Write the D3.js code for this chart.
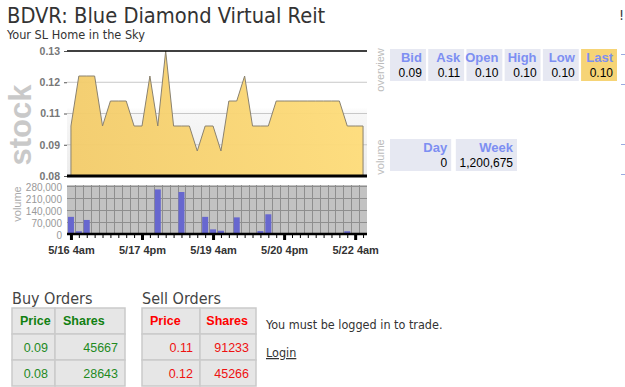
<!DOCTYPE html>
<html><head><meta charset="utf-8">
<script src="https://cdn.jsdelivr.net/npm/d3@7"></script>
<style>body{margin:0;background:#fff}svg{display:block}</style>
</head><body>
<svg width="625" height="387"></svg>
<script>
// prices and volumes, one point every 4 hours starting 5/16 4am
var startTime = new Date(2012, 4, 16, 4);
var stepHours = 4;
var prices = [0.10,0.12,0.12,0.12,0.10,0.11,0.11,0.11,0.10,0.10,0.12,0.10,0.13,0.10,0.10,0.10,0.09,0.10,0.10,0.09,
              0.11,0.11,0.12,0.10,0.10,0.10,0.11,0.11,0.11,0.11,0.11,0.11,0.11,0.11,0.11,0.10,0.10,0.10];
var volumes = [100000,16000,82000,5000,0,0,0,0,0,0,0,260000,0,0,245000,0,0,100000,27000,19000,
               0,97000,0,0,17000,115000,0,0,0,0,0,3000,0,0,0,16000,0,0];
var priceTicks = [0.08, 0.0925, 0.105, 0.1175, 0.13];
var priceTickLabels = ["0.08","0.09","0.11","0.12","0.13"];
var volumeTicks = [0, 70000, 140000, 210000, 280000];
var dateTicks = [new Date(2012,4,16,4), new Date(2012,4,17,16), new Date(2012,4,19,4), new Date(2012,4,20,16), new Date(2012,4,22,4)];
var dateTickLabels = ["5/16 4am","5/17 4pm","5/19 4am","5/20 4pm","5/22 4am"];

var quoteLabels = ["Bid","Ask","Open","High","Low","Last"];
var quoteValues = ["0.09","0.11","0.10","0.10","0.10","0.10"];
var volLabels = ["Day","Week"];
var volValues = ["0","1,200,675"];
var buyOrders = [["0.09","45667"],["0.08","28643"]];
var sellOrders = [["0.11","91233"],["0.12","45266"]];

var data = prices.map(function(p, i) {
  return {t: d3.timeHour.offset(startTime, i * stepHours), price: p, vol: volumes[i]};
});

var svg = d3.select("svg");
var sans = "'Liberation Sans', Arial, sans-serif";
var tahoma = "'DejaVu Sans Condensed', 'DejaVu Sans', sans-serif";

var defs = svg.append("defs");
var bg = defs.append("linearGradient").attr("id", "bg").attr("x1", 0).attr("y1", 0).attr("x2", 0).attr("y2", 1);
bg.append("stop").attr("offset", "0%").attr("stop-color", "#ffffff");
bg.append("stop").attr("offset", "45%").attr("stop-color", "#ffffff");
bg.append("stop").attr("offset", "50%").attr("stop-color", "#f7f7f7");
bg.append("stop").attr("offset", "100%").attr("stop-color", "#ececec");
var gold = defs.append("linearGradient").attr("id", "gold").attr("x1", 0).attr("y1", 0).attr("x2", 1).attr("y2", 0);
gold.append("stop").attr("offset", "0%").attr("stop-color", "#f3cc6a");
gold.append("stop").attr("offset", "100%").attr("stop-color", "#fedc79");

// header
svg.append("text").attr("x", 7).attr("y", 23).attr("font-family", tahoma).attr("font-size", 21.7)
  .attr("fill", "#333").text("BDVR: Blue Diamond Virtual Reit");
svg.append("text").attr("x", 7).attr("y", 39).attr("font-family", tahoma).attr("font-size", 12.6)
  .attr("fill", "#333").text("Your SL Home in the Sky");
svg.append("text").attr("x", 619).attr("y", 20).attr("font-family", tahoma).attr("font-size", 14)
  .attr("fill", "#333").text("!");

var x = d3.scaleTime().domain([new Date(2012,4,16,2), new Date(2012,4,22,10)]).range([67, 367]);
var y = d3.scaleLinear().domain([0.08, 0.13]).range([176, 51]);
var yv = d3.scaleLinear().domain([0, 280000]).range([234, 186]);

// price panel
svg.append("rect").attr("x", 67).attr("y", 51).attr("width", 300).attr("height", 125).attr("fill", "url(#bg)");
svg.selectAll(".pgrid").data(priceTicks.slice(1, 4)).enter().append("line")
  .attr("x1", 67).attr("x2", 367).attr("y1", function(d) { return y(d); }).attr("y2", function(d) { return y(d); })
  .attr("stroke", "#c8c8c8").attr("stroke-width", 1);

var area = d3.area().x(function(d) { return x(d.t); }).y0(176).y1(function(d) { return y(d.price); });
svg.append("path").datum(data).attr("d", area).attr("fill", "url(#gold)").attr("fill-opacity", 0.95)
  .attr("stroke", "#8a8270").attr("stroke-width", 1);

svg.append("line").attr("x1", 67).attr("x2", 367).attr("y1", 51).attr("y2", 51).attr("stroke", "#000").attr("stroke-width", 1.5);
svg.append("line").attr("x1", 67).attr("x2", 367).attr("y1", 176).attr("y2", 176).attr("stroke", "#000").attr("stroke-width", 3);

var yAxis = svg.append("g").attr("transform", "translate(67,0)")
  .call(d3.axisLeft(y).tickValues(priceTicks).tickFormat(function(d, i) { return priceTickLabels[i]; }).tickSize(3).tickPadding(4));
yAxis.select(".domain").remove();
yAxis.selectAll("line").attr("stroke", "#555");
yAxis.selectAll("text").attr("font-family", sans).attr("font-size", 10.5).attr("font-weight", "bold").attr("fill", "#777");

svg.append("text").attr("transform", "translate(31,125) rotate(-90)").attr("text-anchor", "middle")
  .attr("font-family", sans).attr("font-size", 31).attr("font-weight", "bold").attr("fill", "#c9c9c9").text("stock");

// volume panel
svg.append("rect").attr("x", 67).attr("y", 185).attr("width", 300).attr("height", 49).attr("fill", "#c2c2c2");
svg.selectAll(".vgridx").data(data.slice(0, 37)).enter().append("line")
  .attr("x1", function(d) { return Math.round(x(d3.timeHour.offset(d.t, 2))) + 0.5; })
  .attr("x2", function(d) { return Math.round(x(d3.timeHour.offset(d.t, 2))) + 0.5; })
  .attr("y1", 185).attr("y2", 234).attr("stroke", "#8e8e8e").attr("stroke-width", 1);
svg.selectAll(".vgridy").data(volumeTicks.slice(1)).enter().append("line")
  .attr("x1", 67).attr("x2", 367)
  .attr("y1", function(d) { return Math.round(yv(d)) + 0.5; }).attr("y2", function(d) { return Math.round(yv(d)) + 0.5; })
  .attr("stroke", "#8e8e8e").attr("stroke-width", 1);

svg.selectAll(".bar").data(data.filter(function(d) { return d.vol > 0; })).enter().append("rect")
  .attr("x", function(d) { return x(d.t) - 3; })
  .attr("y", function(d) { return yv(d.vol); })
  .attr("width", 6)
  .attr("height", function(d) { return 234 - yv(d.vol); })
  .attr("fill", "#6767cf");

var vAxis = svg.append("g").attr("transform", "translate(67,1)")
  .call(d3.axisLeft(yv).tickValues(volumeTicks).tickFormat(d3.format(",")).tickSize(0).tickPadding(5));
vAxis.select(".domain").remove();
vAxis.selectAll("text").attr("font-family", sans).attr("font-size", 10).attr("fill", "#999");

svg.append("text").attr("transform", "translate(21,204) rotate(-90)").attr("text-anchor", "middle")
  .attr("font-family", sans).attr("font-size", 11).attr("fill", "#aaa").text("volume");

// x axis: minor ticks every 4 hours, major ticks with labels
var minor = svg.append("g").attr("transform", "translate(0,234)")
  .call(d3.axisBottom(x).tickValues(data.map(function(d) { return d.t; })).tickFormat("").tickSize(4));
minor.select(".domain").remove();
minor.selectAll("line").attr("stroke", "#000");
var major = svg.append("g").attr("transform", "translate(0,234)")
  .call(d3.axisBottom(x).tickValues(dateTicks).tickFormat(function(d, i) { return dateTickLabels[i]; }).tickSize(6).tickPadding(6));
major.select(".domain").remove();
major.selectAll("line").attr("stroke", "#000").attr("stroke-width", 3);
major.selectAll("text").attr("font-family", sans).attr("font-size", 11).attr("font-weight", "bold").attr("fill", "#333");
svg.append("line").attr("x1", 67).attr("x2", 367).attr("y1", 234).attr("y2", 234).attr("stroke", "#000").attr("stroke-width", 2.5);

// quote boxes
svg.append("text").attr("transform", "translate(384,70) rotate(-90)").attr("text-anchor", "middle")
  .attr("font-family", sans).attr("font-size", 11).attr("fill", "#bbb").text("overview");
svg.append("text").attr("transform", "translate(384,157) rotate(-90)").attr("text-anchor", "middle")
  .attr("font-family", sans).attr("font-size", 11).attr("fill", "#bbb").text("volume");

var qx = d3.scaleBand().domain(quoteLabels).range([390, 617]).paddingInner(0.06);
var q = svg.selectAll(".quote").data(quoteLabels).enter().append("g")
  .attr("transform", function(d) { return "translate(" + qx(d) + ",49)"; });
q.append("rect").attr("width", qx.bandwidth()).attr("height", 32)
  .attr("fill", function(d) { return d === "Last" ? "#f6d476" : "#e6e8f2"; });
q.append("text").attr("x", qx.bandwidth() - 4).attr("y", 13).attr("text-anchor", "end")
  .attr("font-family", sans).attr("font-size", 13).attr("font-weight", "bold").attr("fill", "#7d8ff2").text(function(d) { return d; });
q.append("text").attr("x", qx.bandwidth() - 4).attr("y", 28).attr("text-anchor", "end")
  .attr("font-family", sans).attr("font-size", 12).attr("fill", "#000").text(function(d, i) { return quoteValues[i]; });

var vx = d3.scaleBand().domain(volLabels).range([390, 517]).paddingInner(0.07);
var v = svg.selectAll(".vq").data(volLabels).enter().append("g")
  .attr("transform", function(d) { return "translate(" + vx(d) + ",139)"; });
v.append("rect").attr("width", vx.bandwidth()).attr("height", 32).attr("fill", "#e6e8f2");
v.append("text").attr("x", vx.bandwidth() - 4).attr("y", 13).attr("text-anchor", "end")
  .attr("font-family", sans).attr("font-size", 13).attr("font-weight", "bold").attr("fill", "#7d8ff2").text(function(d) { return d; });
v.append("text").attr("x", vx.bandwidth() - 4).attr("y", 28).attr("text-anchor", "end")
  .attr("font-family", sans).attr("font-size", 12).attr("fill", "#000").text(function(d, i) { return volValues[i]; });

svg.selectAll(".dash").data([54, 84, 144, 174]).enter().append("line")
  .attr("x1", 621).attr("x2", 625).attr("y1", function(d) { return d + 0.5; }).attr("y2", function(d) { return d + 0.5; })
  .attr("stroke", "#9aaae0");

// order tables
function orderTable(x0, splitX, x1, title, rows, headColor, valColor, sharesRight) {
  svg.append("text").attr("x", x0).attr("y", 304).attr("font-family", tahoma).attr("font-size", 16)
    .attr("fill", "#444").text(title);
  var rowY = d3.scaleBand().domain(d3.range(3)).range([308, 386]);
  var g = svg.append("g");
  [0, 1, 2].forEach(function(r) {
    g.append("rect").attr("x", x0).attr("y", rowY(r)).attr("width", splitX - x0).attr("height", rowY.bandwidth())
      .attr("fill", "#e6e6e6").attr("stroke", "#cacaca").attr("stroke-width", 1.5);
    g.append("rect").attr("x", splitX).attr("y", rowY(r)).attr("width", x1 - splitX).attr("height", rowY.bandwidth())
      .attr("fill", "#e6e6e6").attr("stroke", "#cacaca").attr("stroke-width", 1.5);
  });
  g.append("text").attr("x", x0 + 8).attr("y", rowY(0) + 17).attr("font-family", sans).attr("font-size", 12.5)
    .attr("font-weight", "bold").attr("fill", headColor).text("Price");
  g.append("text").attr("x", sharesRight ? x1 - 8 : splitX + 8).attr("y", rowY(0) + 17)
    .attr("text-anchor", sharesRight ? "end" : "start").attr("font-family", sans).attr("font-size", 12.5)
    .attr("font-weight", "bold").attr("fill", headColor).text("Shares");
  rows.forEach(function(row, r) {
    g.append("text").attr("x", splitX - 7).attr("y", rowY(r + 1) + 18).attr("text-anchor", "end")
      .attr("font-family", sans).attr("font-size", 12.5).attr("fill", valColor).text(row[0]);
    g.append("text").attr("x", x1 - 7).attr("y", rowY(r + 1) + 18).attr("text-anchor", "end")
      .attr("font-family", sans).attr("font-size", 12.5).attr("fill", valColor).text(row[1]);
  });
}
orderTable(12, 55, 125, "Buy Orders", buyOrders, "#118011", "#1f8a1f", false);
orderTable(142, 200, 256, "Sell Orders", sellOrders, "#ff0000", "#ee1111", true);

svg.append("text").attr("x", 266).attr("y", 329).attr("font-family", tahoma).attr("font-size", 12.5)
  .attr("fill", "#333").text("You must be logged in to trade.");
svg.append("text").attr("x", 266).attr("y", 357).attr("font-family", tahoma).attr("font-size", 12.5)
  .attr("fill", "#333").attr("text-decoration", "underline").text("Login");
</script>
</body></html>
